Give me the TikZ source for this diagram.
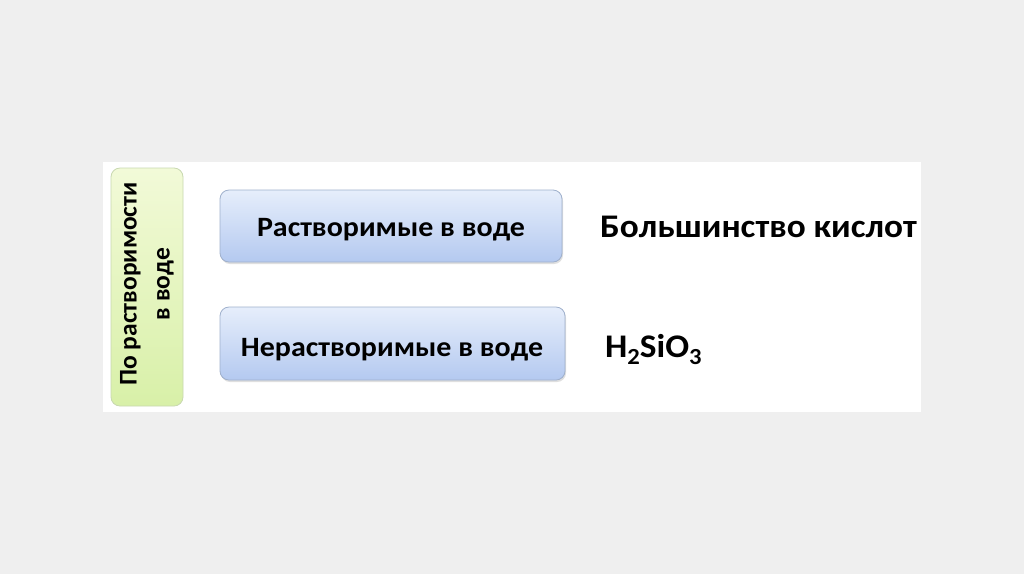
\documentclass[tikz,border=0pt]{standalone}
\usepackage{fontspec}
\setmainfont{Carlito}
\usetikzlibrary{shadows}
\definecolor{bgc}{HTML}{EFEFEF}
\definecolor{gtop}{HTML}{F2FAD8}
\definecolor{gbot}{HTML}{D8F0A8}
\definecolor{gbord}{HTML}{C8D8B0}
\definecolor{btop}{HTML}{E6EEFB}
\definecolor{bbot}{HTML}{B4C9F0}
\definecolor{bbord}{HTML}{9FB0CC}
\newcommand{\wide}[1]{\scalebox{1.07}[1]{#1}}
\newcommand{\sbt}[1]{\raisebox{-0.22em}{\fontsize{23}{23}\selectfont #1}}
\tikzset{
  greenbox/.style={rounded corners=9pt, top color=gtop, bottom color=gbot, draw=gbord, line width=0.8pt},
  bluebox/.style={rounded corners=9pt, top color=btop, bottom color=bbot, draw=bbord, line width=0.8pt, drop shadow={opacity=0.25, shadow xshift=1pt, shadow yshift=-2pt}},
  lbl/.style={font=\bfseries\fontsize{28}{32}\selectfont, text=black, anchor=base, inner sep=0pt},
  big/.style={font=\bfseries\fontsize{33}{38}\selectfont, text=black, anchor=base west, inner sep=0pt},
}
\begin{document}
\begin{tikzpicture}[x=1pt,y=-1pt]
\fill[bgc] (0,0) rectangle (1024,574);
\useasboundingbox (0,0) rectangle (1024,574);
\fill[white] (103,162) rectangle (921,412);
\draw[greenbox] (111,168) rectangle (183,406);
\node[rotate=90, align=center, inner sep=0pt, font=\bfseries\fontsize{25.5}{33}\selectfont] (g) at (147,284) {По растворимости\\в воде};
\draw[bluebox] (220,190) rectangle (562,262);
\node[lbl] (b1) at (391,236) {\wide{Растворимые в воде}};
\draw[bluebox] (220,307) rectangle (565,380);
\node[lbl] (b2) at (392,356) {\wide{Нерастворимые в воде}};
\node[big] (t1) at (600,237) {\wide{Большинство кислот}};
\node[big] (t2) at (605,357) {\wide{H\sbt{2}SiO\sbt{3}}};
\end{tikzpicture}
\end{document}
